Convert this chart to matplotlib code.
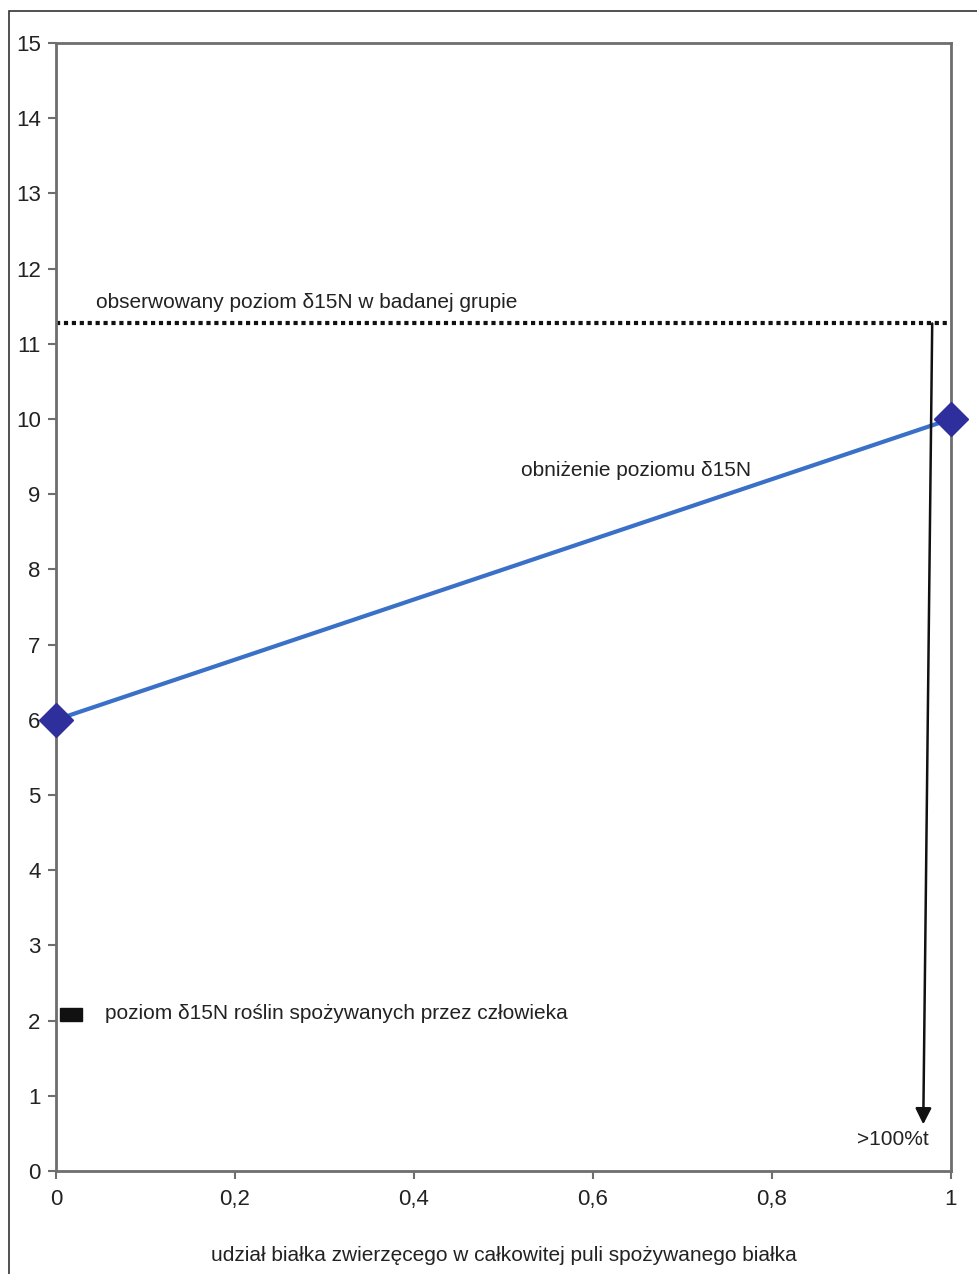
import matplotlib
matplotlib.use("Agg")
import matplotlib.pyplot as plt
from matplotlib.patches import Rectangle
from matplotlib.ticker import FuncFormatter

plt.rcParams['font.family'] = ['Liberation Sans', 'DejaVu Sans']

# data
line_x = [0, 1]
line_y = [6, 10]
observed_level = 11.27
plant_level = 2.07
arrow_start = (0.979, 11.27)
arrow_end = (0.969, 0.62)
x_ticks = [0, 0.2, 0.4, 0.6, 0.8, 1]
y_ticks = list(range(0, 16))

W, H = 977, 1274
fig = plt.figure(figsize=(W/100, H/100), dpi=100)
ax = fig.add_axes([56/W, 1 - 1171/H, (951-56)/W, (1171-43)/H])

# outer frame
fig.patches.append(Rectangle((9/W, -0.1), 2.0, 1 - 11/H + 0.1, transform=fig.transFigure,
                             fill=False, edgecolor='#333333', linewidth=1.2))

ax.set_xlim(0, 1)
ax.set_ylim(0, 15)

# observed level dotted line
ax.plot([0, 0.995], [observed_level, observed_level], linestyle=(0, (1, 0.9)),
        color='#111111', linewidth=3.0)
ax.text(0.045, 11.55, 'obserwowany poziom δ15N w badanej grupie', fontsize=15,
        color='#222222', va='center', ha='left')

# main line
ax.plot(line_x, line_y, color='#3a70c8', linewidth=3, zorder=3)
ax.plot(line_x, line_y, linestyle='none', marker='D', markersize=17,
        color='#2e2f9c', clip_on=False, zorder=4)
ax.text(0.52, 9.32, 'obniżenie poziomu δ15N', fontsize=15, color='#222222',
        va='center', ha='left')

# arrow
ax.annotate('', xy=arrow_end, xytext=arrow_start,
            arrowprops=dict(arrowstyle='-|>', color='#111111', lw=1.8,
                            mutation_scale=24, shrinkA=0, shrinkB=0))
ax.text(0.975, 0.42, '>100%t', fontsize=15, color='#222222', va='center', ha='right')

# plant level marker
ax.add_patch(Rectangle((0.004, plant_level - 0.08), 0.025, 0.18, color='#111111',
                       zorder=3))
ax.text(0.055, plant_level + 0.02, 'poziom δ15N roślin spożywanych przez człowieka',
        fontsize=15, color='#222222', va='center', ha='left')

# axes styling
for s in ax.spines.values():
    s.set_color('#6e6e6e')
    s.set_linewidth(2)
ax.set_xticks(x_ticks)
ax.set_yticks(y_ticks)
ax.xaxis.set_major_formatter(FuncFormatter(lambda v, p: ('%g' % v).replace('.', ',')))
ax.tick_params(axis='both', direction='out', length=6, width=1.5, color='#6e6e6e',
               labelsize=16, labelcolor='#222222')
ax.tick_params(axis='x', pad=7)
ax.tick_params(axis='y', pad=5)
ax.set_xlabel('udział białka zwierzęcego w całkowitej puli spożywanego białka',
              fontsize=15, color='#222222', labelpad=26)

fig.savefig('out.png', dpi=100)
